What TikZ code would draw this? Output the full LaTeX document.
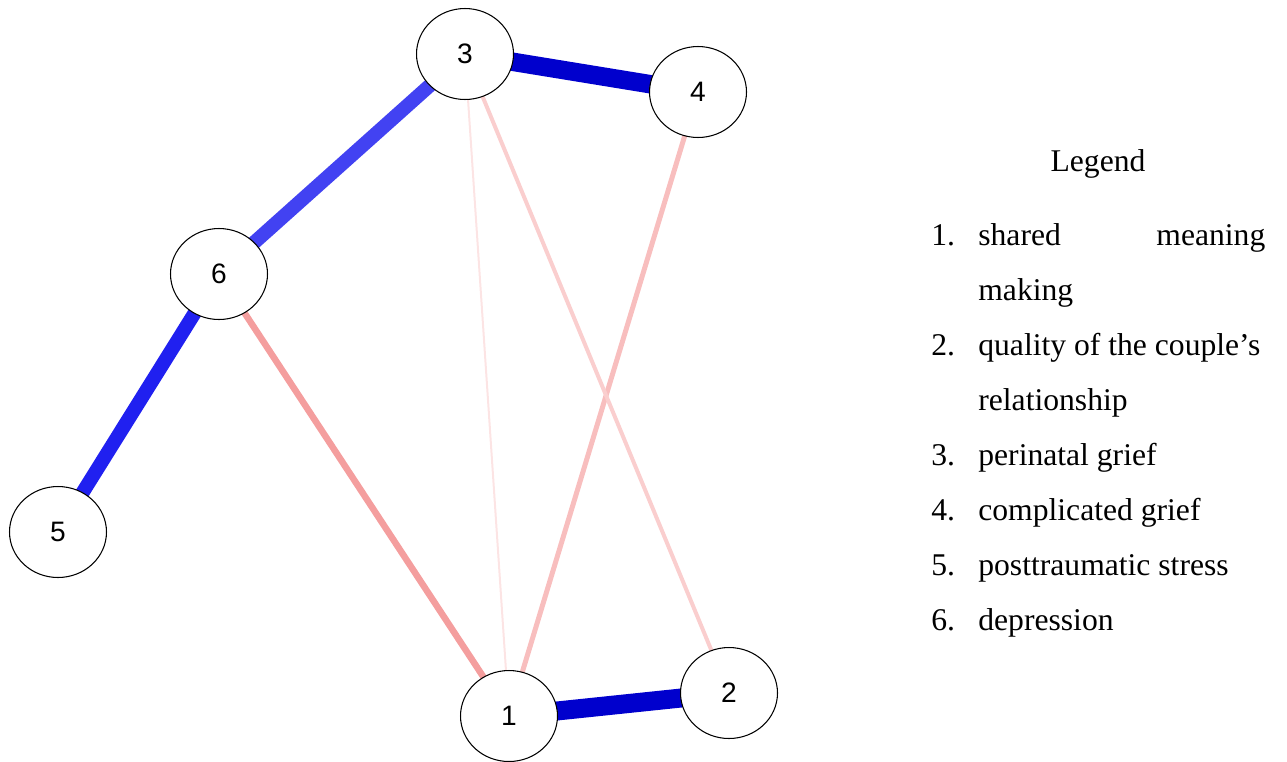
\documentclass[tikz,border=0pt]{standalone}
\usepackage{fontspec}
\setmainfont{Liberation Serif}
\setsansfont{Liberation Sans}
\usepackage{xcolor}
\usepackage{tikz}
\usetikzlibrary{shapes.geometric, positioning, calc}
\definecolor{strongblue}{RGB}{0,0,205}
\definecolor{midblue}{RGB}{32,32,240}
\definecolor{softblue}{RGB}{66,66,242}
\definecolor{redone}{RGB}{244,158,158}
\definecolor{redtwo}{RGB}{248,190,190}
\definecolor{redthree}{RGB}{250,206,206}
\definecolor{redfour}{RGB}{252,228,228}
\pgfdeclarelayer{background}
\pgfsetlayers{background,main}
\tikzset{
  varnode/.style={ellipse, draw=black, fill=white, line width=0.6pt,
    minimum width=1.94cm, minimum height=1.82cm, inner sep=0pt,
    font=\sffamily\fontsize{16}{16}\selectfont},
  posedge/.style={line cap=butt},
  legtitle/.style={anchor=base, inner sep=0pt,
    font=\fontsize{18}{18}\selectfont},
  legnum/.style={anchor=base west, inner sep=0pt,
    font=\fontsize{18}{18}\selectfont},
  legtext/.style={anchor=base west, inner sep=0pt, align=left,
    font=\fontsize{18}{18}\selectfont}
}

\begin{document}
\begin{tikzpicture}[x=0.02cm, y=-0.02cm]
  \useasboundingbox (0,0) rectangle (1287,761);

  % nodes of the network
  \node[varnode] (n3) at (465, 54) {3};
  \node[varnode] (n4) at (698, 92) {4};
  \node[varnode] (n6) at (219, 274) {6};
  \node[varnode] (n5) at (58, 532) {5};
  \node[varnode] (n1) at (509, 716) {1};
  \node[varnode] (n2) at (729, 693) {2};

  % edges, behind the nodes
  \begin{pgfonlayer}{background}
    \draw[posedge, strongblue, line width=0.37cm] (n3.center) -- (n4.center);
    \draw[posedge, strongblue, line width=0.38cm] (n1.center) -- (n2.center);
    \draw[posedge, softblue, line width=0.28cm] (n3.center) -- (n6.center);
    \draw[posedge, midblue, line width=0.28cm] (n6.center) -- (n5.center);
    \draw[redone, line width=0.13cm] (n6.center) -- (n1.center);
    \draw[redtwo, line width=0.10cm] (n4.center) -- (n1.center);
    \draw[redthree, line width=0.08cm] (n3.center) -- (n2.center);
    \draw[redfour, line width=0.04cm] (n3.center) -- (n1.center);
  \end{pgfonlayer}

  % legend
  \node[legtitle] (legend) at (1098, 171) {Legend};
  \node[legnum] (l1) at (931, 245) {1.};
  \node[legtext, text width=5.74cm] (t1) at (978, 245) {shared\hfill meaning};
  \node[legtext] (t1b) at (978, 300) {making};
  \node[legnum] (l2) at (931, 355) {2.};
  \node[legtext] (t2) at (978, 355) {quality of the couple’s};
  \node[legtext] (t2b) at (978, 410) {relationship};
  \node[legnum] (l3) at (931, 465) {3.};
  \node[legtext] (t3) at (978, 465) {perinatal grief};
  \node[legnum] (l4) at (931, 520) {4.};
  \node[legtext] (t4) at (978, 520) {complicated grief};
  \node[legnum] (l5) at (931, 575) {5.};
  \node[legtext] (t5) at (978, 575) {posttraumatic stress};
  \node[legnum] (l6) at (931, 630) {6.};
  \node[legtext] (t6) at (978, 630) {depression};
\end{tikzpicture}
\end{document}
